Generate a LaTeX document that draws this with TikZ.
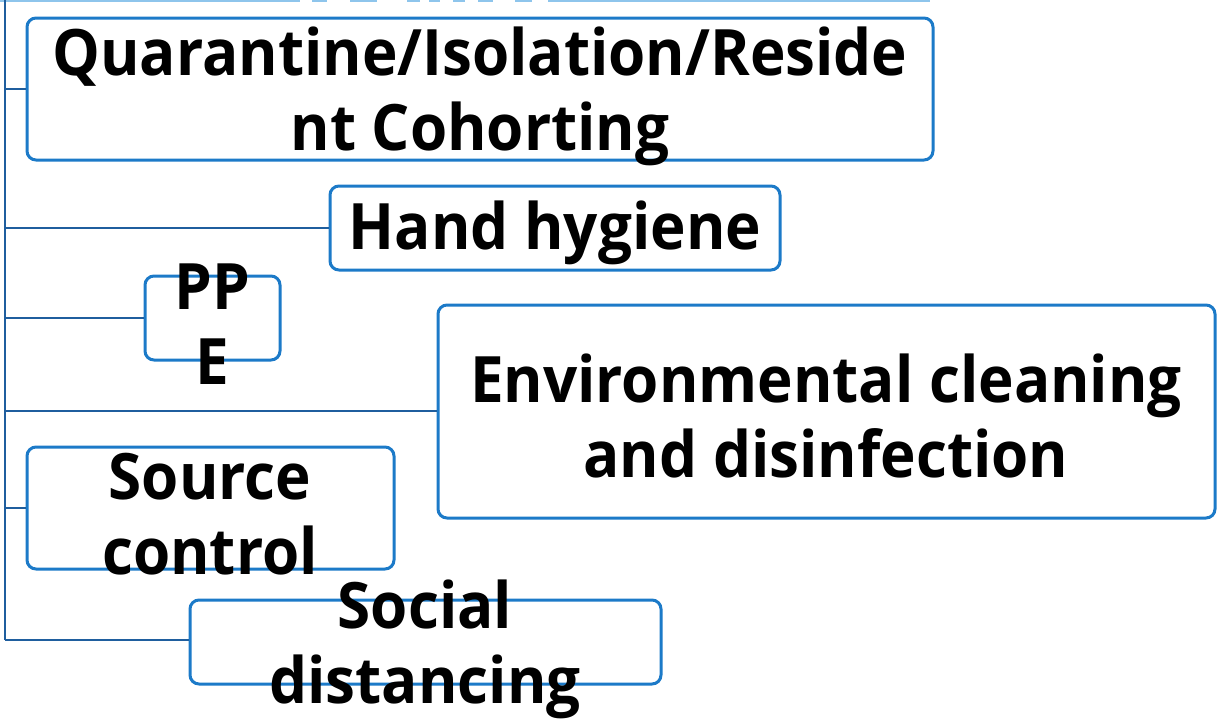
\documentclass[tikz,border=0pt]{standalone}
\usepackage{fontspec}
\setmainfont{Open Sans}[FakeStretch=0.94]
\definecolor{boxblue}{HTML}{1C7AC8}
\definecolor{linkblue}{HTML}{1F5E9E}
\definecolor{lightblue}{HTML}{8EC5EC}
\tikzset{
  box/.style={draw=boxblue, line width=3pt, rounded corners=9pt, fill=white, inner sep=0pt},
  link/.style={draw=linkblue, line width=2.6pt},
  txt/.style={font=\fontsize{64}{75}\selectfont\bfseries, align=center, inner sep=0pt, text=black},
}
\begin{document}
\begin{tikzpicture}[x=1pt,y=-1pt]
\useasboundingbox (0,0) rectangle (1217,721);
% top cut-off line
\draw[lightblue, line width=2.5pt] (0,1) -- (300,1);
\draw[lightblue, line width=2.5pt] (548,1) -- (930,1);
\foreach \a/\b in {312/327,350/377,407/420,429/440,453/465,478/493,515/532}
  \draw[lightblue, line width=2.5pt] (\a,1) -- (\b,1);
% spine
\coordinate (top) at (5,0);
\coordinate (bot) at (5,640);
\draw[link] (top) -- (bot);
% boxes
\node[box, minimum width=906pt, minimum height=142pt] (q) at (480,89) {};
\node[box, minimum width=450pt, minimum height=84pt] (h) at (555,228) {};
\node[box, minimum width=135pt, minimum height=84pt] (p) at (212.5,318) {};
\node[box, minimum width=777pt, minimum height=213pt] (e) at (826.5,411.5) {};
\node[box, minimum width=367pt, minimum height=122pt] (s) at (210.5,508) {};
\node[box, minimum width=471pt, minimum height=84pt] (d) at (425.5,642) {};
% connectors
\coordinate (cq) at (5,89);
\coordinate (ch) at (5,228);
\coordinate (cp) at (5,318);
\coordinate (ce) at (5,411);
\coordinate (cs) at (5,508);
\draw[link] (cq) -- (q.west |- cq);
\draw[link] (ch) -- (h.west |- ch);
\draw[link] (cp) -- (p.west |- cp);
\draw[link] (ce) -- (e.west |- ce);
\draw[link] (cs) -- (s.west |- cs);
\draw[link] (bot) -- (d.west |- bot);
% texts
\node[txt] (tq) at (480,96) {Quarantine/Isolation/Reside\\nt Cohorting};
\node[txt] (th) at (555,233) {Hand hygiene};
\node[txt] (tp) at (212,324) {PP\\E};
\node[txt] (te) at (826,416) {Environmental cleaning\\and disinfection};
\node[txt] (ts) at (210,514) {Source\\control};
\node[txt] (td) at (425,649) {Social\\distancing};
\end{tikzpicture}
\end{document}
